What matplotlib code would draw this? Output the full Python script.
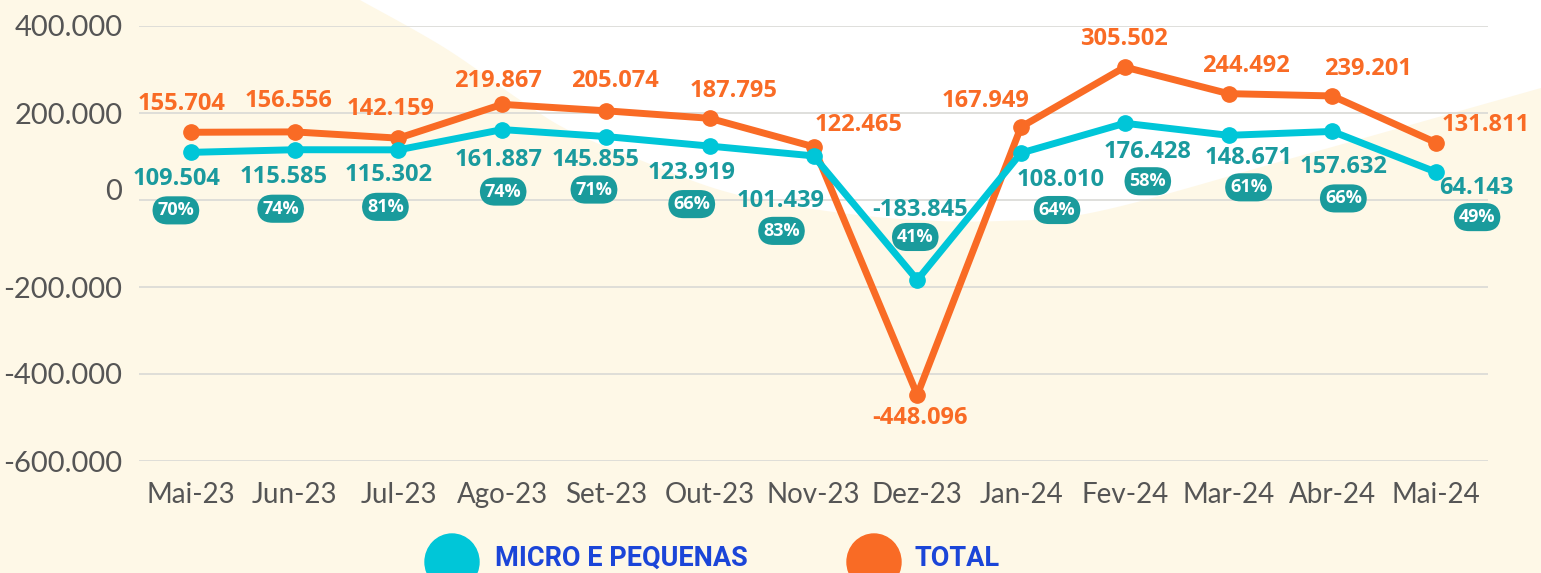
import numpy as np
import matplotlib
matplotlib.use("Agg")
import matplotlib.pyplot as plt
from matplotlib.patches import Ellipse
import matplotlib.transforms as mtransforms

# ---------------- data ----------------
months = ["Mai-23", "Jun-23", "Jul-23", "Ago-23", "Set-23", "Out-23", "Nov-23",
          "Dez-23", "Jan-24", "Fev-24", "Mar-24", "Abr-24", "Mai-24"]
total = [155704, 156556, 142159, 219867, 205074, 187795, 122465,
         -448096, 167949, 305502, 244492, 239201, 131811]
micro = [109504, 115585, 115302, 161887, 145855, 123919, 101439,
         -183845, 108010, 176428, 148671, 157632, 64143]
share = [70, 74, 81, 74, 71, 66, 83, 41, 64, 58, 61, 66, 49]
yticks = [-600000, -400000, -200000, 0, 200000, 400000]
series_names = ["MICRO E PEQUENAS", "TOTAL"]

# label offsets (pixels, +x right, +y down) relative to the marker
total_off = [(-9, -28), (-6, -31), (-8, -29), (-4, -23), (9, -30), (24, -27), (45, -22),
             (3, 23), (-36, -26), (-1, -28), (17, -28), (36, -27), (50, -18)]
micro_off = [(-14, 27), (-11, 27), (-10, 25), (-4, 30), (-10, 23), (-18, 27), (-33, 45),
             (3, -70), (40, 27), (23, 29), (20, 23), (11, 36), (40, 16)]
badge_off = [(-15, 58), (-14, 59), (-13, 57), (1, 62), (-12, 53), (-18, 58), (-32, 75),
             (-2, -43), (36, 57), (23, 58), (20, 52), (11, 67), (41, 45)]

# ---------------- style ----------------
W, H = 1541, 573
CREAM = "#FEF8E7"
ORANGE = "#F96B25"
CYAN = "#00C6D8"
TEAL = "#1A9A9E"
BADGE = "#1A9B9C"
BLUE = "#1B45D8"
GRAY = "#555555"

def fmt(v):
    return f"{v:,}".replace(",", ".")

fig = plt.figure(figsize=(W / 100, H / 100), dpi=100, facecolor=CREAM)

# background decoration (white blob)
bg = fig.add_axes([0, 0, 1, 1], zorder=0)
bg.set_xlim(0, W)
bg.set_ylim(H, 0)
bg.axis("off")

ctrl = np.array([(360, 0), (445, 48), (520, 100), (570, 131), (640, 160), (720, 190),
                 (800, 207), (900, 219), (1000, 221), (1100, 211), (1300, 156), (1541, 88)],
                dtype=float)
# Catmull-Rom smoothing of the outline
P = np.vstack([ctrl[0], ctrl, ctrl[-1]])
curve = []
for i in range(1, len(P) - 2):
    p0, p1, p2, p3 = P[i - 1], P[i], P[i + 1], P[i + 2]
    for t in np.linspace(0, 1, 20, endpoint=False):
        t2, t3 = t * t, t * t * t
        curve.append(0.5 * ((2 * p1) + (-p0 + p2) * t + (2 * p0 - 5 * p1 + 4 * p2 - p3) * t2
                            + (-p0 + 3 * p1 - 3 * p2 + p3) * t3))
curve.append(ctrl[-1])
curve = np.array(curve)
poly = np.vstack([curve, [(W + 5, 88), (W + 5, -5), (360, -5)]])
bg.add_patch(plt.Polygon(poly, closed=True, facecolor="white", edgecolor="none"))

# ---------------- main axes ----------------
left, right, top, bottom = 139, 1488, 26, 461
ax = fig.add_axes([left / W, (H - bottom) / H, (right - left) / W, (bottom - top) / H], zorder=1)
ax.patch.set_alpha(0)
x = np.arange(len(months))
ax.set_xlim(-0.5, len(months) - 0.5)
ax.set_ylim(-600000, 400000)
for s in ax.spines.values():
    s.set_visible(False)
ax.set_yticks(yticks)
ax.set_yticklabels([fmt(v) for v in yticks], fontfamily="Lato", fontsize=21, color=GRAY)
ax.set_xticks(x)
ax.set_xticklabels(months, fontfamily="Lato", fontsize=20, color=GRAY)
ax.tick_params(axis="both", length=0)
ax.tick_params(axis="y", pad=12)
ax.tick_params(axis="x", pad=15)
ax.grid(axis="y", color="#D9D9D6", lw=1.2)
ax.set_axisbelow(True)

# shift the "0" label up like in the reference
for lab, v in zip(ax.get_yticklabels(), yticks):
    if v == 0:
        lab.set_transform(lab.get_transform() + mtransforms.ScaledTranslation(0, 10 / 100, fig.dpi_scale_trans))

ax.plot(x, total, color=ORANGE, lw=5, marker="o", ms=11, zorder=3, solid_capstyle="round")
ax.plot(x, micro, color=CYAN, lw=5, marker="o", ms=11, zorder=4, solid_capstyle="round")

lab_font = dict(fontfamily="Open Sans", fontweight="bold", fontsize=17)
for i in range(len(months)):
    dx, dy = total_off[i]
    ax.annotate(fmt(total[i]), (x[i], total[i]), xytext=(dx, -dy), textcoords="offset pixels",
                ha="center", va="center", color=ORANGE, zorder=6, annotation_clip=False, **lab_font)
    dx, dy = micro_off[i]
    ax.annotate(fmt(micro[i]), (x[i], micro[i]), xytext=(dx, -dy), textcoords="offset pixels",
                ha="center", va="center", color=TEAL, zorder=6, annotation_clip=False, **lab_font)
    dx, dy = badge_off[i]
    ax.annotate(f"{share[i]}%", (x[i], micro[i]), xytext=(dx, -dy), textcoords="offset pixels",
                ha="center", va="center", color="white", fontfamily="Open Sans", fontweight="bold",
                fontsize=13, zorder=7, annotation_clip=False,
                bbox=dict(boxstyle="round,pad=0.28,rounding_size=0.85", fc=BADGE, ec="none"))

# ---------------- legend ----------------
leg = fig.add_axes([0, 0, 1, 1], zorder=2)
leg.set_xlim(0, W)
leg.set_ylim(H, 0)
leg.axis("off")
leg.add_patch(Ellipse((452, 562), 54, 56, color=CYAN))
leg.add_patch(Ellipse((874, 562), 54, 56, color=ORANGE))
leg.text(495, 558, series_names[0], ha="left", va="center", color=BLUE,
         fontfamily="Roboto", fontweight="bold", fontsize=19.5)
leg.text(915, 558, series_names[1], ha="left", va="center", color=BLUE,
         fontfamily="Roboto", fontweight="bold", fontsize=19.5)

fig.savefig("out.png", dpi=100, facecolor=CREAM)
